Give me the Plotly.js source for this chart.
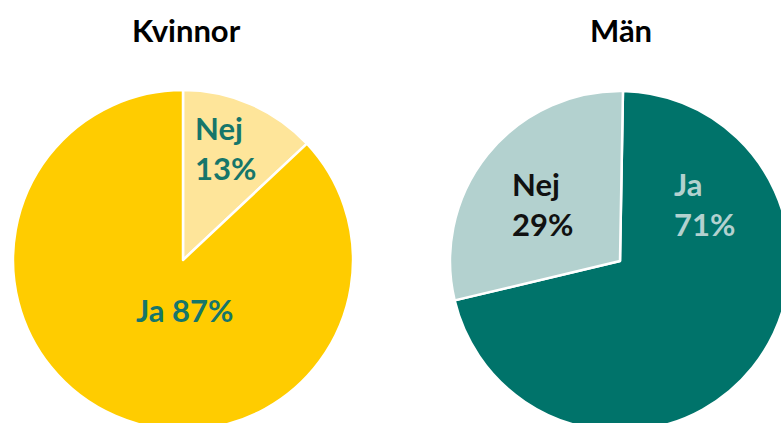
<!DOCTYPE html>
<html>
<head>
<meta charset="utf-8">
<script src="https://cdn.plot.ly/plotly-3.0.1.min.js"></script>
<style>
html,body{margin:0;padding:0;overflow:hidden;background:#fff;width:781px;height:423px;}
#chart{width:800px;height:440px;}
</style>
</head>
<body>
<div id="chart"></div>
<script>
// Data
const groups = ["Kvinnor", "Män"];
const womenLabels = ["Nej", "Ja"];
const womenValues = [13, 87];
const menLabels = ["Ja", "Nej"];
const menValues = [71, 29];

const W = 800, H = 440;
const px = x => x / W;
const py = y => (H - y) / H;

const font = "Lato, 'Open Sans', sans-serif";

const traces = [
  {
    type: "pie",
    labels: womenLabels,
    values: womenValues,
    sort: false,
    direction: "clockwise",
    rotation: 0,
    textinfo: "none",
    hoverinfo: "label+percent",
    marker: { colors: ["#FEE59A", "#FFCC00"], line: { color: "#ffffff", width: 2.5 } },
    domain: { x: [px(13), px(353)], y: [py(430), py(90)] },
    showlegend: false
  },
  {
    type: "pie",
    labels: menLabels,
    values: menValues,
    sort: false,
    direction: "clockwise",
    rotation: 1,
    textinfo: "none",
    hoverinfo: "label+percent",
    marker: { colors: ["#00736A", "#B3D1CF"], line: { color: "#ffffff", width: 2.5 } },
    domain: { x: [px(450), px(790)], y: [py(431), py(91)] },
    showlegend: false
  }
];

const F = (c) => ({ family: font, size: 31, color: c });

function ann(text, x, y, xanchor, color, align) {
  return { text: text, x: px(x), y: py(y), xref: "paper", yref: "paper",
    xanchor: xanchor, yanchor: "middle", align: align || "left",
    showarrow: false, font: F(color) };
}

const annotations = [
  ann("<b>" + groups[0] + "</b>", 186, 30, "center", "#000000", "center"),
  ann("<b>" + groups[1] + "</b>", 621, 30, "center", "#000000", "center"),
  ann("<b>" + womenLabels[0] + "<br>" + womenValues[0] + "%</b>", 193, 148, "left", "#16766A"),
  ann("<b>" + womenLabels[1] + " " + womenValues[1] + "%</b>", 184, 310, "center", "#16766A", "center"),
  ann("<b>" + menLabels[1] + "<br>" + menValues[1] + "%</b>", 510, 204, "left", "#111111"),
  ann("<b>" + menLabels[0] + "<br>" + menValues[0] + "%</b>", 672, 204, "left", "#B3D1CF")
];

const layout = {
  width: W, height: H,
  margin: { l: 0, r: 0, t: 0, b: 0 },
  paper_bgcolor: "#ffffff",
  plot_bgcolor: "#ffffff",
  annotations: annotations
};

Plotly.newPlot("chart", traces, layout, { displayModeBar: false, staticPlot: true });
</script>
</body>
</html>
